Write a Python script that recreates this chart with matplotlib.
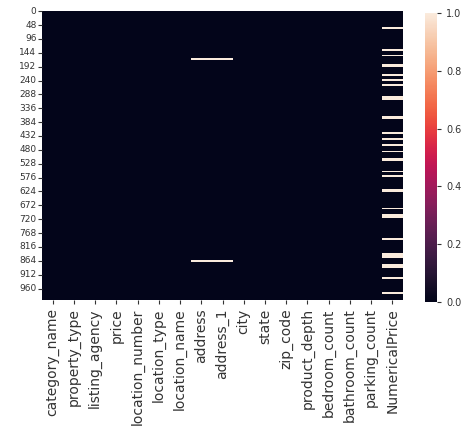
import numpy as np
import pandas as pd
import matplotlib
matplotlib.use("Agg")
import matplotlib.pyplot as plt
import seaborn as sns

columns = ["category_name", "property_type", "listing_agency", "price",
           "location_number", "location_type", "location_name", "address",
           "address_1", "city", "state", "zip_code", "product_depth",
           "bedroom_count", "bathroom_count", "parking_count", "NumericalPrice"]
n_rows = 1000

# rows with missing address / address_1
address_missing_starts = [164, 861]
address_missing_lengths = [6, 6]

# runs of missing NumericalPrice values (start row, length)
price_missing_starts = [55, 130, 153, 183, 217, 235, 252, 295, 364, 420, 438,
                        460, 485, 508, 552, 566, 615, 680, 703, 785, 838, 876,
                        921, 974]
price_missing_lengths = [7, 8, 4, 10, 7, 7, 7, 13, 11, 6, 10,
                         8, 4, 12, 6, 8, 12, 6, 12, 9, 15, 14,
                         6, 6]

missing = np.zeros((n_rows, len(columns)), dtype=float)
for s, l in zip(address_missing_starts, address_missing_lengths):
    missing[s:s + l, columns.index("address")] = 1
    missing[s:s + l, columns.index("address_1")] = 1
for s, l in zip(price_missing_starts, price_missing_lengths):
    missing[s:s + l, columns.index("NumericalPrice")] = 1
df = pd.DataFrame(missing, columns=columns)

fig = plt.figure(figsize=(4.72, 4.30), dpi=100)
ax = fig.add_axes([42 / 472, 1 - 300 / 430, 361 / 472, 289 / 430])
cax = fig.add_axes([425 / 472, 1 - 302 / 430, 12 / 472, 289 / 430])
sns.heatmap(df, ax=ax, cbar_ax=cax, cmap="rocket", vmin=0, vmax=1,
            yticklabels=48, xticklabels=True)
ax.tick_params(axis="x", labelsize=10, length=3, pad=3, colors="#333333")
ax.tick_params(axis="y", labelsize=6.5, length=3, pad=1, colors="#333333")
plt.setp(ax.get_xticklabels(), rotation=90)
plt.setp(ax.get_yticklabels(), rotation=0)
cax.tick_params(labelsize=7, length=3, colors="#333333")
fig.savefig("out.png", dpi=100)
